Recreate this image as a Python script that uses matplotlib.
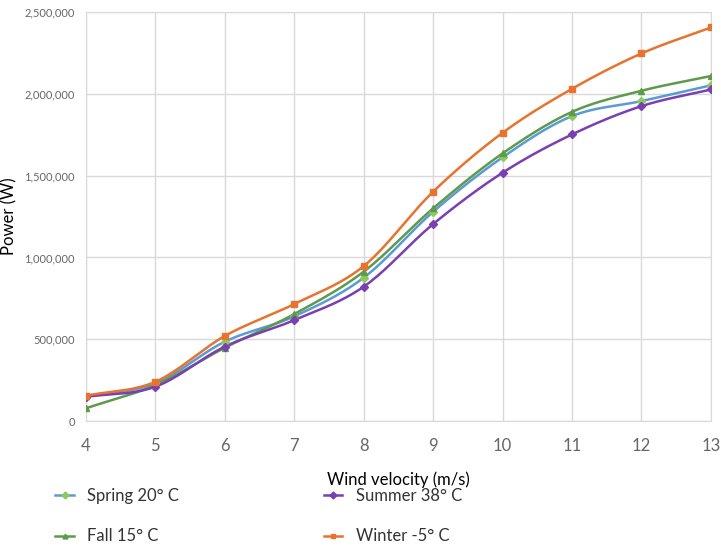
import numpy as np
import matplotlib.pyplot as plt
from matplotlib.ticker import FuncFormatter

# data
wind = [4, 5, 6, 7, 8, 9, 10, 11, 12, 13]
spring = [150000, 230000, 485000, 640000, 876000, 1279000, 1612000, 1864000, 1956000, 2052000]
summer = [148000, 210000, 455000, 617000, 821000, 1204000, 1518000, 1752000, 1925000, 2027000]
fall = [78000, 220000, 448000, 654000, 913000, 1300000, 1636000, 1890000, 2019000, 2109000]
winter = [155000, 240000, 520000, 715000, 947000, 1402000, 1762000, 2031000, 2247000, 2406000]

series = [
    ("Spring 20° C", spring, "#5B9BD5", "#8BCB5A", "D"),
    ("Fall 15° C", fall, "#5E9A4C", "#5E9A4C", "^"),
    ("Summer 38° C", summer, "#7A3FB0", "#7A3FB0", "D"),
    ("Winter -5° C", winter, "#E8732E", "#E8732E", "s"),
]


def smooth(x, y, n=20):
    # Catmull-Rom style smoothing like Excel's smoothed line
    x = np.asarray(x, float)
    y = np.asarray(y, float)
    px = np.concatenate([[2 * x[0] - x[1]], x, [2 * x[-1] - x[-2]]])
    py = np.concatenate([[2 * y[0] - y[1]], y, [2 * y[-1] - y[-2]]])
    xs, ys = [], []
    for i in range(1, len(px) - 2):
        t = np.linspace(0, 1, n, endpoint=False)
        for arr, out in ((px, xs), (py, ys)):
            p0, p1, p2, p3 = arr[i - 1], arr[i], arr[i + 1], arr[i + 2]
            out.extend(0.5 * ((2 * p1) + (-p0 + p2) * t
                              + (2 * p0 - 5 * p1 + 4 * p2 - p3) * t ** 2
                              + (-p0 + 3 * p1 - 3 * p2 + p3) * t ** 3))
    xs.append(x[-1])
    ys.append(y[-1])
    return xs, ys


plt.rcParams['font.family'] = ['Lato', 'DejaVu Sans']

fig = plt.figure(figsize=(7.21, 5.49), dpi=100)
ax = fig.add_axes([0.119, 0.233, 0.867, 0.745])

handles = []
for label, vals, lc, mc, mk in series:
    sx, sy = smooth(wind, vals)
    ax.plot(sx, sy, color=lc, lw=1.8, zorder=3)
    ax.plot(wind, vals, ls="none", marker=mk, ms=4.5, color=mc, zorder=4)
    h, = ax.plot([], [], color=lc, lw=1.8, marker=mk, ms=3.5, mfc=mc, mec=mc)
    handles.append((h, label))

ax.set_xlim(4, 13)
ax.set_ylim(0, 2500000)
ax.set_xticks(wind)
ax.set_yticks(np.arange(0, 2500001, 500000))
ax.yaxis.set_major_formatter(FuncFormatter(lambda v, p: f"{int(v):,}"))
ax.grid(True, color="#d9d9d9", lw=1)
for s in ax.spines.values():
    s.set_color("#d9d9d9")
ax.tick_params(axis="both", length=0, colors="#666666")
ax.tick_params(axis="x", labelsize=12, pad=12)
ax.tick_params(axis="y", labelsize=8, pad=8)
ax.set_xlabel("Wind velocity (m/s)", fontsize=12, labelpad=13)
ax.set_ylabel("Power (W)", fontsize=12)
ax.yaxis.set_label_coords(-0.11, 0.5)

fig.legend([h for h, l in handles], [l for h, l in handles], ncol=2,
           loc="upper left", bbox_to_anchor=(0.056, 0.138), frameon=False,
           fontsize=12, columnspacing=8.7, handlelength=1.1,
           handletextpad=0.8, labelspacing=1.45, labelcolor="#333333")

plt.savefig("out.png", dpi=100)
